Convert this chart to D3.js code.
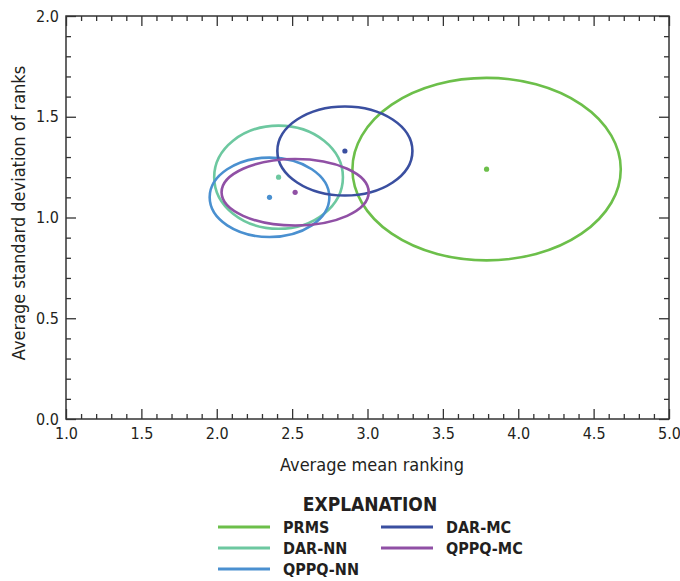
<!DOCTYPE html>
<html>
<head>
<meta charset="utf-8">
<script src="https://cdn.jsdelivr.net/npm/d3@7"></script>
<style>
  html, body { margin: 0; padding: 0; background: #fff; }
  svg { display: block; }
  text { font-family: "Liberation Sans Narrow", "DejaVu Sans Condensed", "Arial Narrow", sans-serif; fill: #231f20; }
</style>
</head>
<body>
<svg id="chart" width="680" height="581"></svg>
<script>
// ---- data ----
const methods = ["PRMS", "DAR-NN", "QPPQ-NN", "DAR-MC", "QPPQ-MC"];
const meanRanking = [3.79, 2.41, 2.35, 2.85, 2.52];
const sdRanking = [1.24, 1.20, 1.10, 1.33, 1.125];
const meanSpread = [0.89, 0.427, 0.397, 0.448, 0.488];
const sdSpread = [0.453, 0.256, 0.197, 0.221, 0.165];
const colors = ["#6cbf4a", "#6dc8a0", "#4a90d0", "#3a4fa0", "#9050a5"];
const xTicks = [1.0, 1.5, 2.0, 2.5, 3.0, 3.5, 4.0, 4.5, 5.0];
const yTicks = [0.0, 0.5, 1.0, 1.5, 2.0];
const legendCol1 = ["PRMS", "DAR-NN", "QPPQ-NN"];
const legendCol2 = ["DAR-MC", "QPPQ-MC"];

const svg = d3.select("#chart");
const L = 66, R = 669, T = 16, B = 419;
const x = d3.scaleLinear().domain([1, 5]).range([L, R]);
const y = d3.scaleLinear().domain([0, 2]).range([B, T]);

const minorX = d3.range(10, 51).map(d => d / 10).filter(d => !xTicks.some(t => Math.abs(t - d) < 1e-9));
const minorY = d3.range(0, 21).map(d => d / 10).filter(d => !yTicks.some(t => Math.abs(t - d) < 1e-9));
const fmt = d3.format(".1f");
const axisColor = "#333";

function styleAxis(g) {
  g.select(".domain").remove();
  g.selectAll("line").attr("stroke", axisColor).attr("stroke-width", 1.3);
}

// bottom
svg.append("g").attr("transform", `translate(0,${B})`)
  .call(d3.axisBottom(x).tickValues(xTicks).tickFormat(fmt).tickSizeInner(-10).tickSizeOuter(0).tickPadding(9))
  .call(styleAxis)
  .call(g => g.selectAll("text").attr("font-size", 16).attr("font-family", null).attr("fill", "#231f20"));
svg.append("g").attr("transform", `translate(0,${B})`)
  .call(d3.axisBottom(x).tickValues(minorX).tickFormat("").tickSizeInner(-5).tickSizeOuter(0))
  .call(styleAxis);
// top
svg.append("g").attr("transform", `translate(0,${T})`)
  .call(d3.axisTop(x).tickValues(xTicks).tickFormat("").tickSizeInner(-10).tickSizeOuter(0))
  .call(styleAxis);
svg.append("g").attr("transform", `translate(0,${T})`)
  .call(d3.axisTop(x).tickValues(minorX).tickFormat("").tickSizeInner(-5).tickSizeOuter(0))
  .call(styleAxis);
// left
svg.append("g").attr("transform", `translate(${L},0)`)
  .call(d3.axisLeft(y).tickValues(yTicks).tickFormat(fmt).tickSizeInner(-10).tickSizeOuter(0).tickPadding(7))
  .call(styleAxis)
  .call(g => g.selectAll("text").attr("font-size", 16).attr("font-family", null).attr("fill", "#231f20"));
svg.append("g").attr("transform", `translate(${L},0)`)
  .call(d3.axisLeft(y).tickValues(minorY).tickFormat("").tickSizeInner(-5).tickSizeOuter(0))
  .call(styleAxis);
// right
svg.append("g").attr("transform", `translate(${R},0)`)
  .call(d3.axisRight(y).tickValues(yTicks).tickFormat("").tickSizeInner(-10).tickSizeOuter(0))
  .call(styleAxis);
svg.append("g").attr("transform", `translate(${R},0)`)
  .call(d3.axisRight(y).tickValues(minorY).tickFormat("").tickSizeInner(-5).tickSizeOuter(0))
  .call(styleAxis);

// frame
svg.append("rect").attr("x", L).attr("y", T).attr("width", R - L).attr("height", B - T)
  .attr("fill", "none").attr("stroke", axisColor).attr("stroke-width", 1.5);

// ellipses
const data = methods.map((m, i) => ({ m, mx: meanRanking[i], my: sdRanking[i], sx: meanSpread[i], sy: sdSpread[i], c: colors[i] }));
const gE = svg.append("g");
gE.selectAll("ellipse").data(data).join("ellipse")
  .attr("cx", d => x(d.mx)).attr("cy", d => y(d.my))
  .attr("rx", d => x(d.mx + d.sx) - x(d.mx)).attr("ry", d => y(d.my) - y(d.my + d.sy))
  .attr("fill", "none").attr("stroke", d => d.c).attr("stroke-width", 2.6);
gE.selectAll("circle").data(data).join("circle")
  .attr("cx", d => x(d.mx)).attr("cy", d => y(d.my)).attr("r", 2.6)
  .attr("fill", d => d.c);

// axis titles
svg.append("text").attr("x", 372).attr("y", 471).attr("text-anchor", "middle")
  .attr("font-size", 18).text("Average mean ranking");
svg.append("text").attr("transform", "translate(25,213) rotate(-90)").attr("text-anchor", "middle")
  .attr("font-size", 18).text("Average standard deviation of ranks");

// legend
svg.append("text").attr("x", 370).attr("y", 511).attr("text-anchor", "middle")
  .attr("font-size", 19).attr("font-weight", "bold").text("EXPLANATION");
const colorOf = name => colors[methods.indexOf(name)];
function legendColumn(names, lx, tx) {
  names.forEach((n, i) => {
    const yy = 527 + i * 21;
    svg.append("line").attr("x1", lx).attr("x2", lx + 52).attr("y1", yy).attr("y2", yy)
      .attr("stroke", colorOf(n)).attr("stroke-width", 3);
    svg.append("text").attr("x", tx).attr("y", yy + 6).attr("font-size", 16)
      .attr("font-weight", "bold").text(n);
  });
}
legendColumn(legendCol1, 218, 283);
legendColumn(legendCol2, 381, 446);
</script>
</body>
</html>
